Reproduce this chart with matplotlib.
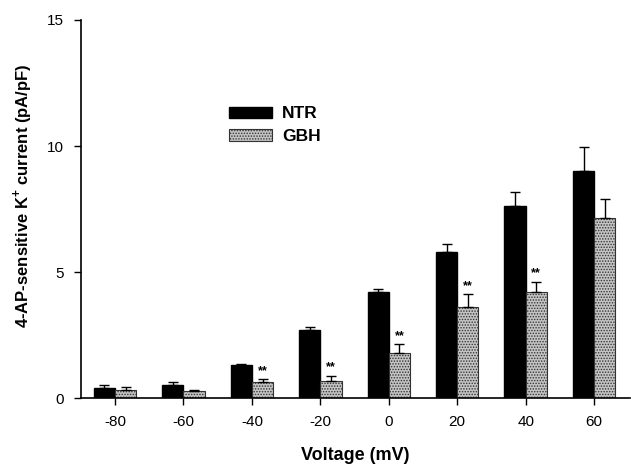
import matplotlib
matplotlib.use('Agg')
import matplotlib.pyplot as plt
import numpy as np

plt.rcParams['font.family'] = ['Liberation Sans', 'DejaVu Sans']
plt.rcParams['mathtext.fontset'] = 'custom'
plt.rcParams['mathtext.rm'] = 'Liberation Sans'
plt.rcParams['mathtext.bf'] = 'Liberation Sans:bold'
plt.rcParams['hatch.linewidth'] = 0.7

# data
voltages = ['-80', '-60', '-40', '-20', '0', '20', '40', '60']
ntr_mean = [0.38, 0.50, 1.31, 2.68, 4.19, 5.79, 7.62, 9.02]
ntr_err = [0.15, 0.13, 0.04, 0.14, 0.15, 0.33, 0.54, 0.95]
gbh_mean = [0.33, 0.26, 0.64, 0.69, 1.77, 3.62, 4.22, 7.15]
gbh_err = [0.10, 0.05, 0.11, 0.20, 0.38, 0.51, 0.40, 0.73]
gbh_sig = [False, False, True, True, True, True, True, False]

width = 0.31
x = np.arange(len(voltages))

fig = plt.figure(figsize=(6.31, 4.65), dpi=100)
ax = fig.add_axes([0.128, 0.144, 0.87, 0.813])

ax.bar(x - width/2, ntr_mean, width, color='black', edgecolor='black',
       yerr=[np.zeros(len(x)), ntr_err], capsize=3.5,
       error_kw=dict(ecolor='black', elinewidth=1.0, capthick=1.0), label='NTR', zorder=2)
ax.bar(x + width/2, gbh_mean, width, color='#c4c4c4', edgecolor='#333333', hatch='......',
       linewidth=0.8, yerr=[np.zeros(len(x)), gbh_err], capsize=3.5,
       error_kw=dict(ecolor='black', elinewidth=1.0, capthick=1.0), label='GBH', zorder=2)

for i in range(len(x)):
    if gbh_sig[i]:
        ax.text(x[i] + width/2, gbh_mean[i] + gbh_err[i] + 0.08, '**', ha='center', va='bottom',
                fontsize=9, fontweight='bold')

ax.set_xlim(-0.5, 7.52)
ax.set_ylim(0, 15)
ax.set_xticks(x)
ax.set_xticklabels(voltages)
ax.set_yticks([0, 5, 10, 15])
ax.tick_params(axis='both', direction='out', length=5, width=1, labelsize=11)
ax.tick_params(axis='x', pad=7)
ax.tick_params(axis='y', pad=7)
for s in ['top', 'right']:
    ax.spines[s].set_visible(False)
for s in ['left', 'bottom']:
    ax.spines[s].set_linewidth(1.2)

ax.set_xlabel('Voltage (mV)', fontsize=13, fontweight='bold', labelpad=13)
ax.set_ylabel(r'4-AP-sensitive K$^{\mathbf{+}}$ current (pA/pF)', fontsize=12,
              fontweight='bold')
ax.yaxis.set_label_coords(-0.085, 0.534)

leg = ax.legend(loc='upper left', bbox_to_anchor=(0.363, 0.771), bbox_transform=fig.transFigure,
                frameon=False, borderpad=0, borderaxespad=0, handlelength=2.5, handleheight=0.65,
                handletextpad=0.55, labelspacing=0.45, prop={'weight': 'bold', 'size': 12.5})

fig.savefig('out.png', dpi=100)
